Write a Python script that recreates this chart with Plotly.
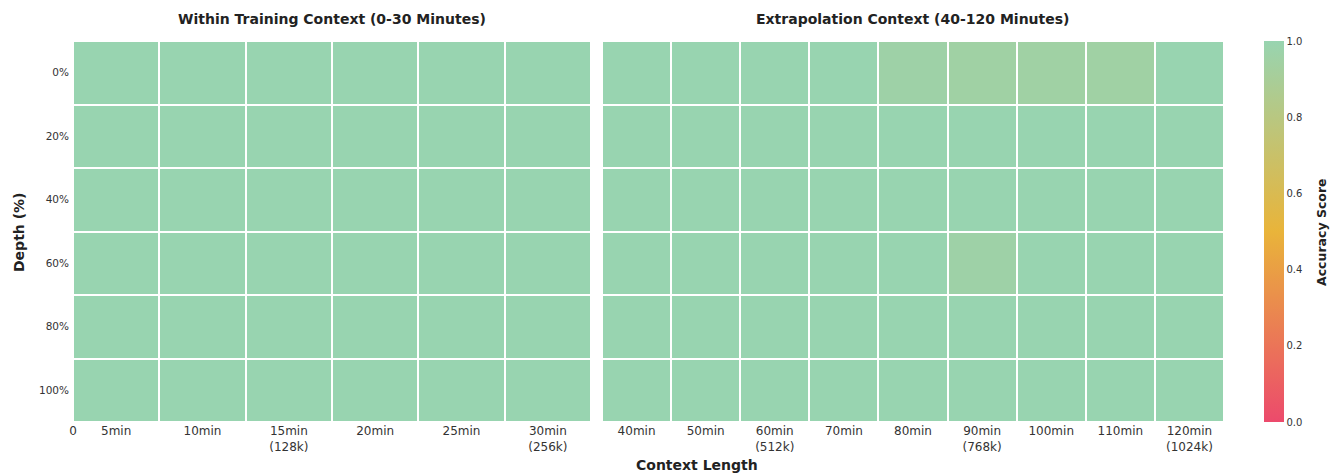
import plotly.graph_objects as go

# Depth rows (top to bottom)
depths = ["0%", "20%", "40%", "60%", "80%", "100%"]

# Within-training context lengths
train_labels = ["5min", "10min", "15min<br>(128k)", "20min", "25min", "30min<br>(256k)"]
train_scores = [
    [1.0, 1.0, 1.0, 1.0, 1.0, 1.0],
    [1.0, 1.0, 1.0, 1.0, 1.0, 1.0],
    [1.0, 1.0, 1.0, 1.0, 1.0, 1.0],
    [1.0, 1.0, 1.0, 1.0, 1.0, 1.0],
    [1.0, 1.0, 1.0, 1.0, 1.0, 1.0],
    [1.0, 1.0, 1.0, 1.0, 1.0, 1.0],
]

# Extrapolation context lengths
extra_labels = ["40min", "50min", "60min<br>(512k)", "70min", "80min",
                "90min<br>(768k)", "100min", "110min", "120min<br>(1024k)"]
extra_scores = [
    [1.0, 1.0, 1.0, 1.0, 0.96, 0.95, 0.95, 0.95, 1.0],
    [1.0, 1.0, 1.0, 1.0, 1.0, 1.0, 1.0, 1.0, 1.0],
    [1.0, 1.0, 1.0, 1.0, 1.0, 1.0, 1.0, 1.0, 1.0],
    [1.0, 1.0, 1.0, 1.0, 1.0, 0.96, 1.0, 1.0, 1.0],
    [1.0, 1.0, 1.0, 1.0, 1.0, 1.0, 1.0, 1.0, 1.0],
    [1.0, 1.0, 1.0, 1.0, 1.0, 1.0, 1.0, 1.0, 1.0],
]

colorscale = [[0.0, "#EC4A6C"], [0.5, "#E9B43A"], [1.0, "#98D4B0"]]
FONT = "DejaVu Sans"
W, H = 1333, 474

def px_x(p):
    return p / W

def px_y(p):
    return 1 - p / H

y_top, y_bot = px_y(41), px_y(422)

fig = go.Figure()

n_tr = len(train_labels)
fig.add_trace(go.Heatmap(
    z=train_scores,
    x=[i + 0.5 for i in range(n_tr)],
    y=[i + 0.5 for i in range(len(depths))],
    zmin=0, zmax=1, colorscale=colorscale,
    xgap=2, ygap=2, showscale=False,
    xaxis="x", yaxis="y",
    hovertemplate="%{z}<extra></extra>",
))

n_ex = len(extra_labels)
fig.add_trace(go.Heatmap(
    z=extra_scores,
    x=[i + 0.5 for i in range(n_ex)],
    y=[i + 0.5 for i in range(len(depths))],
    zmin=0, zmax=1, colorscale=colorscale,
    xgap=2, ygap=2, showscale=True,
    xaxis="x2", yaxis="y2",
    hovertemplate="%{z}<extra></extra>",
    colorbar=dict(
        x=px_x(1264), xanchor="left", thickness=20,
        y=(y_top + y_bot) / 2, yanchor="middle",
        lenmode="pixels", len=381, ypad=0, xpad=0,
        outlinewidth=0,
        tickvals=[0, 0.2, 0.4, 0.6, 0.8, 1.0],
        ticktext=["0.0", "0.2", "0.4", "0.6", "0.8", "1.0"],
        ticks="", ticklabelposition="outside",
        tickfont=dict(family=FONT, size=10, color="#333333"),
    ),
))

tick_font = dict(family=FONT, size=12, color="#333333")
ytick_font = dict(family=FONT, size=10.5, color="#333333")

fig.update_layout(
    width=W, height=H,
    margin=dict(l=0, r=0, t=0, b=0),
    paper_bgcolor="white", plot_bgcolor="white",
    xaxis=dict(
        domain=[px_x(73), px_x(591)], range=[0, n_tr],
        tickvals=[0] + [i + 0.5 for i in range(n_tr)],
        ticktext=["0"] + train_labels,
        showgrid=False, zeroline=False, ticks="", tickfont=tick_font,
        anchor="y", fixedrange=True, automargin=False,
    ),
    yaxis=dict(
        domain=[y_bot, y_top], range=[len(depths), 0],
        tickvals=[i + 0.5 for i in range(len(depths))], ticktext=depths,
        showgrid=False, zeroline=False, ticks="", tickfont=ytick_font,
        ticklabelstandoff=3,
        anchor="x", fixedrange=True, automargin=False,
    ),
    xaxis2=dict(
        domain=[px_x(602), px_x(1224)], range=[0, n_ex],
        tickvals=[i + 0.5 for i in range(n_ex)], ticktext=extra_labels,
        showgrid=False, zeroline=False, ticks="", tickfont=tick_font,
        anchor="y2", fixedrange=True, automargin=False,
    ),
    yaxis2=dict(
        domain=[y_bot, y_top], range=[len(depths), 0],
        showticklabels=False,
        showgrid=False, zeroline=False, ticks="",
        anchor="x2", fixedrange=True, automargin=False,
    ),
    annotations=[
        dict(text="<b>Within Training Context (0-30 Minutes)</b>",
             x=px_x(332), y=px_y(19), xref="paper", yref="paper",
             xanchor="center", yanchor="middle", showarrow=False,
             font=dict(family=FONT, size=14, color="#222222")),
        dict(text="<b>Extrapolation Context (40-120 Minutes)</b>",
             x=px_x(913), y=px_y(19), xref="paper", yref="paper",
             xanchor="center", yanchor="middle", showarrow=False,
             font=dict(family=FONT, size=14, color="#222222")),
        dict(text="<b>Context Length</b>",
             x=px_x(697), y=px_y(465), xref="paper", yref="paper",
             xanchor="center", yanchor="middle", showarrow=False,
             font=dict(family=FONT, size=14, color="#222222")),
        dict(text="<b>Depth (%)</b>", textangle=-90,
             x=px_x(19), y=px_y(232), xref="paper", yref="paper",
             xanchor="center", yanchor="middle", showarrow=False,
             font=dict(family=FONT, size=14, color="#222222")),
        dict(text="<b>Accuracy Score</b>", textangle=-90,
             x=px_x(1321), y=px_y(232), xref="paper", yref="paper",
             xanchor="center", yanchor="middle", showarrow=False,
             font=dict(family=FONT, size=12.5, color="#222222")),
    ],
)

fig.write_html("out.html")
